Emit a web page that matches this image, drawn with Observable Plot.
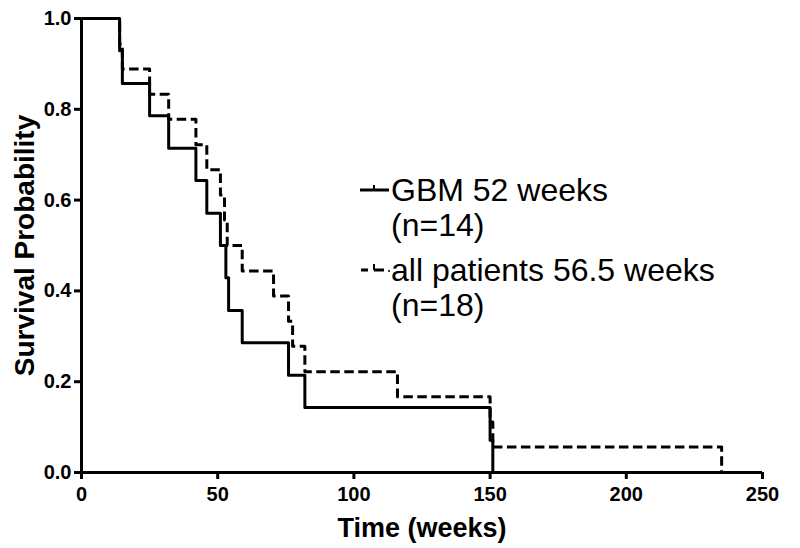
<!DOCTYPE html>
<html>
<head>
<meta charset="utf-8">
<script src="https://cdn.jsdelivr.net/npm/d3@7"></script>
<script src="https://cdn.jsdelivr.net/npm/@observablehq/plot@0.6"></script>
<style>
  html, body { margin: 0; padding: 0; background: #fff; }
  #wrap { position: relative; width: 800px; height: 548px; font-family: "Liberation Sans", Arial, sans-serif; }
  .leg { position: absolute; font-size: 32px; line-height: 35px; color: #000; white-space: nowrap; }
  .sample { position: absolute; }
  #wrap svg g[aria-label$="tick label"] { font-size: 20px; font-weight: bold; }
</style>
</head>
<body>
<div id="wrap"></div>
<script>
// ---- data ----
const gbmWeeks    = [0, 14, 15, 25, 32, 42, 46, 51, 53, 54, 59, 76, 82, 150, 151];
const gbmSurvival = [1.0, 0.929, 0.857, 0.786, 0.714, 0.643, 0.571, 0.5, 0.429, 0.357, 0.286, 0.214, 0.143, 0.071, 0.0];

const allWeeks    = [0, 14, 15, 25, 32, 42, 46, 51, 52.5, 53.5, 59, 70.5, 76, 77.5, 82, 116, 150, 151, 235];
const allSurvival = [1.0, 0.944, 0.889, 0.833, 0.778, 0.722, 0.667, 0.611, 0.556, 0.5, 0.444, 0.389, 0.333, 0.278, 0.222, 0.167, 0.111, 0.056, 0.0];

const xTicks = [0, 50, 100, 150, 200, 250];
const yTicks = [0, 0.2, 0.4, 0.6, 0.8, 1.0];
const xTitle = "Time (weeks)";
const yTitle = "Survival Probability";
const legendLabels = [["GBM 52 weeks", "(n=14)"], ["all patients 56.5 weeks", "(n=18)"]];

const gbm = gbmWeeks.map((w, i) => ({week: w, survival: gbmSurvival[i]}));
const all = allWeeks.map((w, i) => ({week: w, survival: allSurvival[i]}));

const chart = Plot.plot({
  width: 800,
  height: 548,
  marginLeft: 81,
  marginRight: 38,
  marginTop: 18,
  marginBottom: 76,
  style: {fontFamily: "Liberation Sans, Arial, sans-serif", color: "#000", background: "#fff", overflow: "visible"},
  x: {domain: [0, 250]},
  y: {domain: [0, 1]},
  marks: [
    Plot.line(all, {x: "week", y: "survival", curve: "step-after", stroke: "#000", strokeWidth: 3, strokeDasharray: "9.5,4.5", strokeLinecap: "butt"}),
    Plot.line(gbm, {x: "week", y: "survival", curve: "step-after", stroke: "#000", strokeWidth: 3, strokeLinecap: "butt"}),
    Plot.ruleX([0], {stroke: "#000", strokeWidth: 3}),
    Plot.ruleY([0], {stroke: "#000", strokeWidth: 3}),
    Plot.axisX({ticks: xTicks, tickSize: 7, tickPadding: 7, strokeWidth: 3, fontSize: 20, fontWeight: "bold", label: null}),
    Plot.axisY({ticks: yTicks, tickFormat: d3.format(".1f"), tickSize: 7, tickPadding: 3, strokeWidth: 3, fontSize: 20, fontWeight: "bold", label: null}),
    Plot.text([xTitle], {frameAnchor: "bottom", textAnchor: "middle", dy: 56, fontSize: 27, fontWeight: "bold", lineAnchor: "middle"}),
    Plot.text([yTitle], {frameAnchor: "left", textAnchor: "middle", dx: -56, rotate: -90, fontSize: 28, fontWeight: "bold", lineAnchor: "middle"})
  ]
});

const wrap = document.getElementById("wrap");
wrap.appendChild(chart);

// legend
function addLegend(labels, top, dashed) {
  const s = document.createElementNS("http://www.w3.org/2000/svg", "svg");
  s.setAttribute("class", "sample");
  s.setAttribute("width", 34);
  s.setAttribute("height", 14);
  s.style.left = "358px";
  s.style.top = (top + 10) + "px";
  if (!dashed) {
    s.innerHTML = '<line x1="2" x2="31" y1="7" y2="7" stroke="#000" stroke-width="3"/>' +
                  '<line x1="16" x2="16" y1="7" y2="2" stroke="#000" stroke-width="2"/>';
  } else {
    s.innerHTML = '<line x1="3" x2="10" y1="7" y2="7" stroke="#000" stroke-width="3"/>' +
                  '<line x1="16" x2="26" y1="7" y2="7" stroke="#000" stroke-width="3"/>' +
                  '<line x1="16" x2="16" y1="7" y2="1" stroke="#000" stroke-width="2"/>' +
                  '<circle cx="31" cy="8" r="1" fill="#000"/>';
  }
  wrap.appendChild(s);
  const d = document.createElement("div");
  d.className = "leg";
  d.style.left = "391px";
  d.style.top = top + "px";
  d.innerHTML = labels.join("<br>");
  wrap.appendChild(d);
}
addLegend(legendLabels[0], 173, false);
addLegend(legendLabels[1], 253, true);
</script>
</body>
</html>
